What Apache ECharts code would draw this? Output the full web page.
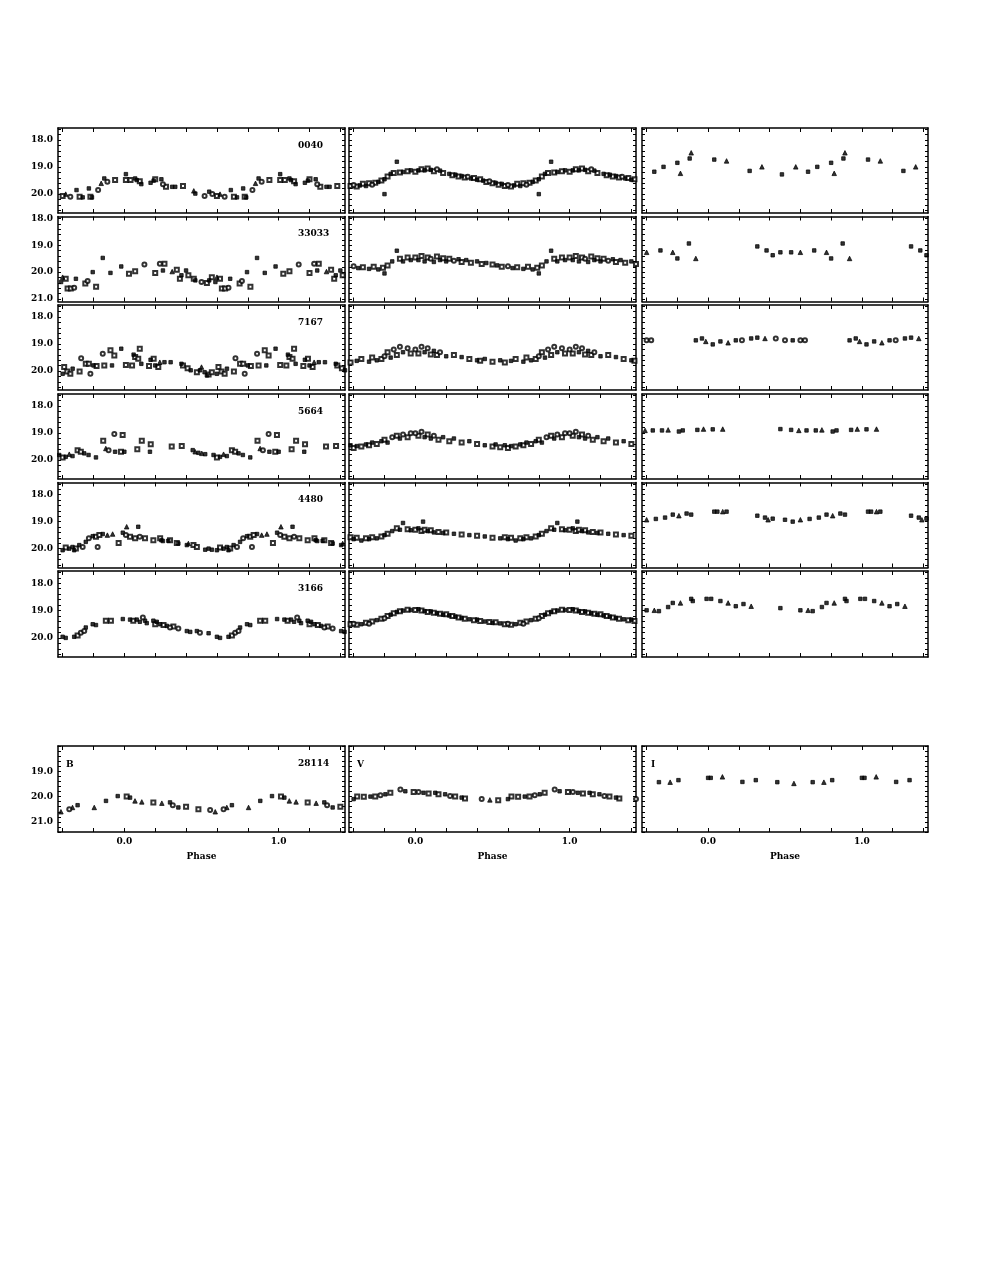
<!DOCTYPE html>
<html><head><meta charset="utf-8">
<script src="https://cdn.jsdelivr.net/npm/echarts@6/dist/echarts.min.js"></script>
<style>html,body{margin:0;padding:0;background:#fff}#c{width:981px;height:1271px}</style>
</head><body><div id="c"></div>
<script>
// ---- text / tick data ----
const starIds = ['0040', '33033', '7167', '5664', '4480', '3166', '28114'];
const bandNames = ['B', 'V', 'I'];
const xTickLabels = [0, 1];
const yLabels = [[18, 19, 20], [18, 19, 20, 21], [18, 19, 20], [18, 19, 20], [18, 19, 20], [18, 19, 20], [19, 20, 21]];
const yRanges = [[17.55, 20.7], [17.92, 21.1], [17.55, 20.7], [17.55, 20.7], [17.55, 20.7], [17.55, 20.7], [18.0, 21.4]];
const phaseRange = [-0.43, 1.43];

// ---- light curves: [phase, magnitude, symbol kind] ----
const b0040 = [[0.01,19.26,'f'],[0.01,19.48,'s'],[0.04,19.48,'s'],[0.07,19.42,'f'],[0.08,19.48,'f'],[0.10,19.52,'s'],[0.11,19.63,'f'],[0.17,19.58,'f'],[0.19,19.50,'f'],[0.20,19.45,'s'],[0.24,19.45,'f'],[0.25,19.63,'c'],[0.27,19.73,'s'],[0.31,19.73,'f'],[0.33,19.73,'f'],[0.38,19.70,'s'],[0.45,19.88,'t'],[0.46,19.98,'f'],[0.52,20.07,'c'],[0.55,19.91,'f'],[0.57,20.00,'c'],[0.60,20.07,'s'],[0.62,20.00,'t'],[0.65,20.10,'c'],[0.69,19.85,'f'],[0.71,20.10,'s'],[0.73,20.12,'f'],[0.77,19.79,'f'],[0.78,20.10,'s'],[0.79,20.12,'f'],[0.83,19.85,'c'],[0.85,19.60,'t'],[0.87,19.42,'f'],[0.89,19.54,'c'],[0.94,19.48,'s']];
const v0040 = [[0.00,19.17,'s'],[0.02,19.12,'f'],[0.04,19.08,'s'],[0.06,19.12,'f'],[0.08,19.05,'s'],[0.10,19.10,'f'],[0.12,19.15,'s'],[0.14,19.08,'c'],[0.16,19.13,'f'],[0.18,19.22,'s'],[0.22,19.25,'f'],[0.24,19.30,'s'],[0.26,19.28,'f'],[0.28,19.35,'s'],[0.30,19.33,'f'],[0.32,19.38,'s'],[0.34,19.36,'c'],[0.36,19.42,'f'],[0.38,19.40,'s'],[0.40,19.47,'f'],[0.42,19.45,'s'],[0.44,19.50,'f'],[0.46,19.55,'s'],[0.48,19.52,'c'],[0.50,19.60,'s'],[0.52,19.58,'f'],[0.54,19.65,'s'],[0.56,19.62,'f'],[0.58,19.70,'s'],[0.60,19.66,'c'],[0.62,19.72,'s'],[0.64,19.68,'f'],[0.66,19.62,'s'],[0.68,19.70,'f'],[0.70,19.60,'s'],[0.72,19.65,'c'],[0.74,19.58,'s'],[0.76,19.55,'f'],[0.78,19.50,'s'],[0.80,19.45,'f'],[0.80,20.00,'f'],[0.82,19.35,'s'],[0.84,19.25,'f'],[0.86,19.22,'s'],[0.88,18.80,'f'],[0.90,19.20,'s'],[0.92,19.18,'f'],[0.95,19.15,'s'],[0.97,19.12,'f']];
const i0040 = [[0.04,18.72,'f'],[0.12,18.77,'t'],[0.27,19.14,'f'],[0.35,18.99,'t'],[0.48,19.27,'f'],[0.57,18.99,'t'],[0.65,19.17,'f'],[0.71,18.99,'f'],[0.80,18.84,'f'],[0.82,19.23,'t'],[0.88,18.68,'f'],[0.89,18.47,'t']];

const b33033 = [[0.03,20.06,'s'],[0.07,19.97,'s'],[0.13,19.72,'c'],[0.20,20.03,'s'],[0.23,19.69,'c'],[0.25,19.94,'f'],[0.26,19.69,'s'],[0.31,19.98,'t'],[0.34,19.91,'s'],[0.36,20.25,'s'],[0.37,20.12,'f'],[0.40,19.94,'f'],[0.415,20.12,'s'],[0.45,20.25,'s'],[0.46,20.31,'f'],[0.50,20.37,'c'],[0.535,20.41,'s'],[0.55,20.31,'f'],[0.567,20.19,'s'],[0.59,20.37,'f'],[0.60,20.19,'t'],[0.62,20.25,'s'],[0.632,20.61,'s'],[0.653,20.61,'s'],[0.675,20.59,'c'],[0.686,20.25,'f'],[0.747,20.43,'s'],[0.762,20.33,'c'],[0.795,20.00,'f'],[0.817,20.55,'s'],[0.86,19.47,'f'],[0.91,20.03,'f'],[0.98,19.79,'f']];
const v33033 = [[0.00,19.45,'s'],[0.02,19.55,'f'],[0.04,19.40,'s'],[0.06,19.60,'f'],[0.08,19.45,'s'],[0.10,19.50,'c'],[0.12,19.62,'f'],[0.14,19.42,'s'],[0.16,19.55,'f'],[0.18,19.48,'s'],[0.20,19.60,'f'],[0.22,19.50,'s'],[0.25,19.58,'c'],[0.28,19.52,'f'],[0.30,19.62,'s'],[0.33,19.55,'f'],[0.36,19.65,'s'],[0.40,19.60,'f'],[0.43,19.70,'s'],[0.46,19.66,'f'],[0.50,19.72,'s'],[0.53,19.75,'f'],[0.56,19.80,'s'],[0.60,19.78,'c'],[0.63,19.85,'f'],[0.66,19.82,'s'],[0.70,19.88,'f'],[0.73,19.80,'s'],[0.76,19.90,'f'],[0.79,19.84,'s'],[0.80,20.05,'f'],[0.82,19.75,'s'],[0.85,19.60,'f'],[0.88,19.20,'f'],[0.90,19.50,'s'],[0.92,19.60,'f'],[0.95,19.45,'s'],[0.97,19.55,'f']];
const i33033 = [[0.32,19.04,'f'],[0.38,19.19,'f'],[0.42,19.37,'f'],[0.47,19.26,'f'],[0.54,19.26,'f'],[0.60,19.26,'t'],[0.69,19.19,'f'],[0.77,19.26,'t'],[0.80,19.49,'f'],[0.875,18.93,'f'],[0.92,19.49,'t']];

const b7167 = [[0.01,19.77,'s'],[0.05,19.79,'s'],[0.06,19.39,'f'],[0.07,19.48,'s'],[0.09,19.54,'s'],[0.10,19.17,'s'],[0.11,19.73,'f'],[0.16,19.81,'s'],[0.17,19.58,'f'],[0.19,19.54,'s'],[0.20,19.79,'f'],[0.22,19.85,'s'],[0.23,19.67,'t'],[0.26,19.67,'f'],[0.30,19.67,'f'],[0.37,19.73,'f'],[0.38,19.79,'s'],[0.41,19.89,'s'],[0.43,19.97,'f'],[0.47,20.04,'s'],[0.49,19.97,'f'],[0.50,19.85,'t'],[0.52,20.04,'f'],[0.535,20.16,'f'],[0.546,20.13,'s'],[0.567,20.04,'s'],[0.60,20.10,'f'],[0.61,19.85,'s'],[0.63,20.01,'s'],[0.65,20.10,'s'],[0.665,19.91,'f'],[0.71,20.01,'s'],[0.72,19.52,'c'],[0.75,19.73,'s'],[0.77,19.73,'s'],[0.78,20.10,'c'],[0.80,19.79,'f'],[0.82,19.81,'s'],[0.86,19.36,'c'],[0.87,19.79,'s'],[0.91,19.23,'s'],[0.92,19.79,'f'],[0.935,19.42,'s'],[0.98,19.17,'f']];
const v7167 = [[0.00,19.20,'c'],[0.02,19.35,'s'],[0.04,19.10,'c'],[0.06,19.30,'f'],[0.08,19.15,'c'],[0.10,19.38,'s'],[0.12,19.25,'f'],[0.14,19.40,'s'],[0.16,19.30,'c'],[0.20,19.45,'f'],[0.25,19.40,'s'],[0.30,19.48,'f'],[0.35,19.55,'s'],[0.40,19.60,'f'],[0.42,19.62,'s'],[0.45,19.55,'f'],[0.50,19.65,'s'],[0.55,19.60,'f'],[0.58,19.68,'s'],[0.62,19.62,'f'],[0.65,19.55,'s'],[0.70,19.65,'f'],[0.72,19.50,'s'],[0.75,19.60,'f'],[0.78,19.55,'s'],[0.80,19.45,'c'],[0.82,19.30,'s'],[0.84,19.50,'f'],[0.86,19.20,'c'],[0.88,19.40,'s'],[0.90,19.10,'c'],[0.92,19.30,'f'],[0.95,19.15,'c'],[0.97,19.35,'s']];
const i7167 = [[0.03,19.01,'f'],[0.08,18.90,'f'],[0.13,18.95,'t'],[0.18,18.86,'f'],[0.22,18.86,'c'],[0.28,18.79,'f'],[0.32,18.76,'f'],[0.37,18.79,'t'],[0.44,18.79,'c'],[0.50,18.86,'c'],[0.55,18.86,'f'],[0.60,18.86,'c'],[0.63,18.86,'c'],[0.92,18.86,'f'],[0.96,18.79,'f'],[0.985,18.90,'t']];

const b5664 = [[0.00,19.69,'f'],[0.084,19.60,'s'],[0.113,19.28,'s'],[0.166,19.69,'f'],[0.171,19.41,'s'],[0.307,19.50,'s'],[0.372,19.48,'s'],[0.443,19.63,'f'],[0.459,19.69,'t'],[0.48,19.73,'f'],[0.502,19.75,'t'],[0.524,19.78,'f'],[0.578,19.81,'f'],[0.60,19.90,'s'],[0.62,19.88,'f'],[0.643,19.78,'t'],[0.664,19.85,'f'],[0.697,19.63,'s'],[0.718,19.69,'s'],[0.74,19.75,'f'],[0.768,19.81,'f'],[0.816,19.90,'f'],[0.863,19.28,'s'],[0.88,19.57,'t'],[0.898,19.63,'c'],[0.935,19.03,'c'],[0.94,19.69,'f'],[0.978,19.69,'s'],[0.989,19.07,'s']];
const v5664 = [[0.00,19.00,'c'],[0.02,19.10,'s'],[0.04,18.95,'c'],[0.06,19.15,'f'],[0.08,19.05,'s'],[0.10,19.20,'f'],[0.12,19.10,'c'],[0.15,19.25,'s'],[0.18,19.15,'f'],[0.22,19.30,'s'],[0.25,19.20,'f'],[0.30,19.35,'s'],[0.35,19.30,'f'],[0.40,19.40,'s'],[0.45,19.45,'f'],[0.50,19.50,'s'],[0.52,19.42,'f'],[0.55,19.52,'s'],[0.58,19.45,'f'],[0.60,19.55,'s'],[0.62,19.48,'f'],[0.65,19.50,'s'],[0.68,19.42,'f'],[0.70,19.45,'s'],[0.72,19.35,'f'],[0.75,19.40,'s'],[0.78,19.30,'f'],[0.80,19.25,'s'],[0.82,19.35,'f'],[0.85,19.15,'c'],[0.88,19.10,'s'],[0.90,19.20,'f'],[0.92,19.05,'c'],[0.95,19.15,'s'],[0.97,19.00,'c']];
const i5664 = [[0.03,18.86,'f'],[0.095,18.85,'t'],[0.47,18.85,'f'],[0.54,18.88,'f'],[0.59,18.90,'t'],[0.64,18.90,'f'],[0.70,18.90,'f'],[0.74,18.88,'t'],[0.81,18.94,'f'],[0.835,18.90,'f'],[0.93,18.88,'f'],[0.97,18.85,'t']];

const b4480 = [[0.01,19.50,'c'],[0.015,19.19,'t'],[0.037,19.56,'s'],[0.07,19.62,'s'],[0.09,19.19,'f'],[0.10,19.56,'c'],[0.134,19.62,'s'],[0.188,19.69,'s'],[0.232,19.62,'s'],[0.24,19.69,'f'],[0.25,19.72,'f'],[0.285,19.71,'f'],[0.296,19.69,'s'],[0.34,19.79,'s'],[0.35,19.81,'f'],[0.405,19.87,'f'],[0.415,19.81,'t'],[0.448,19.87,'s'],[0.47,19.94,'s'],[0.524,20.04,'f'],[0.546,20.00,'f'],[0.567,20.04,'f'],[0.60,20.06,'f'],[0.62,19.96,'s'],[0.643,20.00,'f'],[0.664,19.94,'f'],[0.675,20.06,'f'],[0.686,20.00,'s'],[0.708,19.87,'f'],[0.73,19.94,'c'],[0.75,19.75,'f'],[0.77,19.62,'c'],[0.795,19.54,'f'],[0.816,19.56,'s'],[0.827,19.94,'c'],[0.838,19.50,'s'],[0.86,19.46,'f'],[0.89,19.50,'t'],[0.924,19.46,'t'],[0.963,19.79,'s'],[0.99,19.41,'f']];
const v4480 = [[0.00,19.30,'s'],[0.02,19.25,'f'],[0.04,19.35,'s'],[0.05,19.00,'f'],[0.06,19.30,'s'],[0.08,19.35,'f'],[0.10,19.32,'s'],[0.12,19.40,'f'],[0.15,19.38,'s'],[0.18,19.42,'f'],[0.20,19.40,'s'],[0.25,19.45,'f'],[0.30,19.48,'s'],[0.35,19.50,'f'],[0.40,19.52,'s'],[0.45,19.55,'f'],[0.50,19.60,'s'],[0.55,19.62,'f'],[0.58,19.58,'s'],[0.60,19.65,'f'],[0.62,19.60,'s'],[0.65,19.70,'f'],[0.68,19.62,'s'],[0.70,19.65,'f'],[0.72,19.58,'s'],[0.75,19.62,'f'],[0.78,19.55,'s'],[0.80,19.50,'f'],[0.82,19.45,'s'],[0.85,19.35,'f'],[0.88,19.25,'s'],[0.90,19.30,'f'],[0.92,19.05,'f'],[0.95,19.28,'s'],[0.97,19.32,'f']];
const i4480 = [[0.04,18.63,'f'],[0.06,18.63,'f'],[0.095,18.63,'t'],[0.12,18.63,'f'],[0.32,18.78,'f'],[0.37,18.85,'f'],[0.39,18.93,'t'],[0.42,18.89,'f'],[0.50,18.93,'f'],[0.55,19.00,'f'],[0.60,18.93,'t'],[0.66,18.90,'f'],[0.72,18.85,'f'],[0.77,18.74,'f'],[0.81,18.78,'t'],[0.86,18.70,'f'],[0.89,18.74,'f']];

const b3166 = [[0.037,19.33,'f'],[0.058,19.37,'s'],[0.08,19.33,'f'],[0.10,19.41,'f'],[0.12,19.25,'c'],[0.134,19.37,'f'],[0.145,19.46,'f'],[0.188,19.37,'f'],[0.20,19.50,'s'],[0.21,19.41,'f'],[0.232,19.50,'f'],[0.254,19.53,'s'],[0.275,19.56,'f'],[0.296,19.62,'c'],[0.318,19.58,'s'],[0.35,19.66,'c'],[0.405,19.75,'f'],[0.427,19.78,'f'],[0.47,19.75,'f'],[0.49,19.81,'c'],[0.546,19.83,'f'],[0.60,19.96,'f'],[0.62,20.00,'f'],[0.675,19.96,'f'],[0.697,19.91,'s'],[0.718,19.81,'c'],[0.74,19.75,'c'],[0.75,19.62,'f'],[0.795,19.50,'f'],[0.816,19.53,'f'],[0.88,19.37,'s'],[0.913,19.37,'s'],[0.99,19.31,'f']];
const v3166 = [[0.00,18.98,'s'],[0.02,18.95,'f'],[0.04,19.00,'s'],[0.06,19.02,'f'],[0.08,19.05,'s'],[0.10,19.03,'f'],[0.12,19.08,'s'],[0.14,19.10,'f'],[0.16,19.12,'s'],[0.18,19.15,'f'],[0.20,19.13,'s'],[0.22,19.18,'f'],[0.24,19.20,'s'],[0.26,19.22,'f'],[0.28,19.25,'s'],[0.30,19.27,'f'],[0.32,19.30,'s'],[0.35,19.32,'f'],[0.38,19.35,'s'],[0.40,19.33,'f'],[0.42,19.38,'s'],[0.45,19.40,'f'],[0.48,19.42,'s'],[0.50,19.45,'f'],[0.52,19.43,'s'],[0.55,19.47,'f'],[0.58,19.50,'s'],[0.60,19.48,'c'],[0.62,19.52,'s'],[0.65,19.50,'f'],[0.68,19.45,'s'],[0.70,19.48,'c'],[0.72,19.40,'s'],[0.75,19.35,'f'],[0.78,19.30,'s'],[0.80,19.28,'c'],[0.82,19.20,'s'],[0.84,19.15,'f'],[0.86,19.10,'s'],[0.88,19.05,'f'],[0.90,19.02,'s'],[0.92,19.00,'f'],[0.95,18.97,'s'],[0.97,18.98,'f']];
const i3166 = [[0.02,18.57,'f'],[0.08,18.65,'f'],[0.13,18.72,'t'],[0.18,18.84,'f'],[0.23,18.76,'f'],[0.28,18.84,'t'],[0.47,18.91,'f'],[0.60,18.99,'f'],[0.65,18.99,'t'],[0.68,19.02,'f'],[0.74,18.87,'f'],[0.77,18.72,'f'],[0.82,18.72,'t'],[0.89,18.57,'f'],[0.90,18.65,'f'],[0.99,18.57,'f']];

const b28114 = [[0.015,20.00,'s'],[0.037,20.04,'f'],[0.069,20.17,'t'],[0.113,20.21,'t'],[0.188,20.23,'s'],[0.243,20.26,'t'],[0.296,20.23,'f'],[0.314,20.34,'c'],[0.35,20.43,'f'],[0.40,20.40,'s'],[0.48,20.50,'s'],[0.556,20.53,'c'],[0.589,20.60,'t'],[0.643,20.50,'c'],[0.664,20.43,'t'],[0.697,20.34,'f'],[0.805,20.43,'t'],[0.881,20.17,'f'],[0.957,19.98,'f']];
const v28114 = [[0.021,19.82,'c'],[0.053,19.85,'f'],[0.086,19.88,'s'],[0.129,19.85,'f'],[0.15,19.91,'s'],[0.193,19.91,'f'],[0.225,19.98,'c'],[0.258,20.00,'s'],[0.30,20.04,'f'],[0.322,20.08,'s'],[0.43,20.10,'c'],[0.483,20.13,'t'],[0.537,20.14,'s'],[0.60,20.10,'f'],[0.623,20.00,'s'],[0.666,20.01,'s'],[0.709,20.00,'f'],[0.74,20.00,'s'],[0.774,19.95,'c'],[0.806,19.91,'f'],[0.838,19.85,'s'],[0.903,19.72,'c'],[0.935,19.79,'f'],[0.989,19.82,'s']];
const i28114 = [[0.00,19.26,'f'],[0.017,19.26,'f'],[0.093,19.22,'t'],[0.223,19.42,'f'],[0.31,19.35,'f'],[0.45,19.43,'f'],[0.558,19.48,'t'],[0.68,19.43,'f'],[0.753,19.43,'t'],[0.807,19.35,'f']];

const curves = [
  [b0040, v0040, i0040],
  [b33033, v33033, i33033],
  [b7167, v7167, i7167],
  [b5664, v5664, i5664],
  [b4480, v4480, i4480],
  [b3166, v3166, i3166],
  [b28114, v28114, i28114]
];

// ---- layout ----
const colLeft = [58, 349, 642];
const colWidth = [287, 287, 286];
const rowTop = [128, 216.5, 305, 394, 482.5, 571, 746];
const rowHeight = [85, 85, 85, 85, 85, 86, 86];
const FONT = 'DejaVu Serif';
const symbolFor = { s: 'emptyRect', f: 'rect', t: 'triangle', c: 'emptyCircle' };
const sizeFor = { s: 4, f: 3.5, t: 4.5, c: 4 };

function ticksBetween(lo, hi, step) {
  const out = [];
  for (let v = Math.ceil(lo / step - 1e-9) * step; v <= hi + 1e-9; v += step) out.push(+v.toFixed(3));
  return out;
}
const xTicks = ticksBetween(phaseRange[0], phaseRange[1], 0.2);

const grids = [], xAxes = [], yAxes = [], series = [], graphics = [];
const lineStyle = { color: '#000', width: 1.5 };
const labelStyle = { fontFamily: FONT, fontWeight: 'bold', fontSize: 9, color: '#000' };

for (let r = 0; r < 7; r++) {
  const yTicks = ticksBetween(yRanges[r][0], yRanges[r][1], 0.2);
  for (let c = 0; c < 3; c++) {
    const g = grids.length;
    grids.push({ left: colLeft[c], top: rowTop[r], width: colWidth[c], height: rowHeight[r] });
    const isBottom = r === 6;
    xAxes.push({
      gridIndex: g, type: 'value', position: 'bottom', min: phaseRange[0], max: phaseRange[1],
      axisLine: { show: true, onZero: false, lineStyle },
      axisTick: { show: true, inside: true, length: 4, customValues: xTicks, lineStyle: { color: '#000', width: 1 } },
      axisLabel: isBottom ? { show: true, customValues: xTickLabels, formatter: v => v.toFixed(1), margin: 5, ...labelStyle } : { show: false },
      splitLine: { show: false },
      name: isBottom ? 'Phase' : '', nameLocation: 'middle', nameGap: 20,
      nameTextStyle: labelStyle
    });
    xAxes.push({
      gridIndex: g, type: 'value', position: 'top', min: phaseRange[0], max: phaseRange[1],
      axisLine: { show: true, onZero: false, lineStyle },
      axisTick: { show: true, inside: true, length: 4, customValues: xTicks, lineStyle: { color: '#000', width: 1 } },
      axisLabel: { show: false }, splitLine: { show: false }
    });
    yAxes.push({
      gridIndex: g, type: 'value', position: 'left', inverse: true, min: yRanges[r][0], max: yRanges[r][1],
      axisLine: { show: true, onZero: false, lineStyle },
      axisTick: { show: true, inside: true, length: 3, customValues: yTicks, lineStyle: { color: '#000', width: 1 } },
      axisLabel: c === 0 ? { show: true, customValues: yLabels[r], formatter: v => v.toFixed(1), margin: 5, ...labelStyle } : { show: false },
      splitLine: { show: false }
    });
    yAxes.push({
      gridIndex: g, type: 'value', position: 'right', inverse: true, min: yRanges[r][0], max: yRanges[r][1],
      axisLine: { show: true, onZero: false, lineStyle },
      axisTick: { show: true, inside: true, length: 3, customValues: yTicks, lineStyle: { color: '#000', width: 1 } },
      axisLabel: { show: false }, splitLine: { show: false }
    });
    const groups = { s: [], f: [], t: [], c: [] };
    for (const [p, m, k] of curves[r][c]) {
      for (const d of [-1, 0, 1]) {
        const x = p + d;
        if (x >= phaseRange[0] && x <= phaseRange[1]) groups[k].push([x, m]);
      }
    }
    for (const k of Object.keys(groups)) {
      if (!groups[k].length) continue;
      series.push({
        type: 'scatter', xAxisIndex: 2 * g, yAxisIndex: 2 * g, data: groups[k],
        symbol: symbolFor[k], symbolSize: sizeFor[k], silent: true,
        itemStyle: { color: '#000', borderColor: '#000', borderWidth: 0.9 }
      });
    }
  }
  graphics.push({ type: 'text', left: 298, top: rowTop[r] + 13, style: { text: starIds[r], font: 'bold 9px ' + FONT, fill: '#000' } });
}
const bandX = [66, 357, 651];
for (let c = 0; c < 3; c++) {
  graphics.push({ type: 'text', left: bandX[c], top: rowTop[6] + 14, style: { text: bandNames[c], font: 'bold 9px ' + FONT, fill: '#000' } });
}

const chart = echarts.init(document.getElementById('c'), null, { renderer: 'canvas' });
chart.setOption({
  animation: false,
  backgroundColor: '#fff',
  grid: grids, xAxis: xAxes, yAxis: yAxes, series, graphic: graphics
});
</script>
</body></html>
